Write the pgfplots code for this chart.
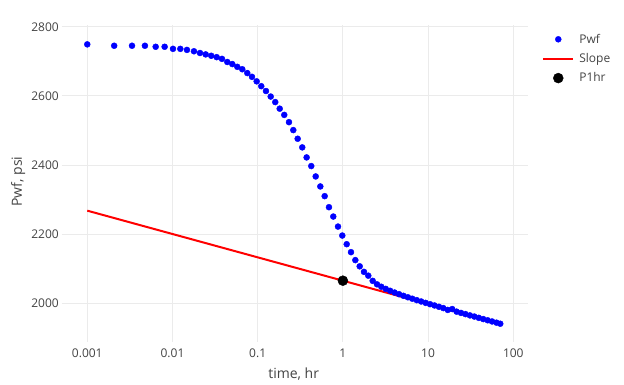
\documentclass[border=0pt]{standalone}
\usepackage{pgfplots}
\pgfplotsset{compat=1.18}
\usepackage{fontspec}
\setmainfont{Open Sans}
\definecolor{txt}{RGB}{68,68,68}
\definecolor{gridc}{RGB}{235,235,235}
\definecolor{pblue}{RGB}{0,0,255}
\definecolor{pred}{RGB}{255,0,0}
\pgfplotsset{
  legmark/.style={legend image code/.code={\path[draw=none,fill=none] (0pt,-6pt) rectangle (30pt,6pt);
    \draw[mark repeat=2,mark phase=2,##1] plot coordinates {(0pt,0pt) (15pt,0pt) (30pt,0pt)};}},
  legline/.style={legend image code/.code={\path[draw=none,fill=none] (0pt,-6pt) rectangle (30pt,6pt);
    \draw[##1] (0pt,0pt) -- (30pt,0pt);}},
}
\begin{document}
\begin{tikzpicture}
\path[use as bounding box, fill=white] (0,0) rectangle (624pt,384pt);
\begin{axis}[
  at={(61.7pt,42.3pt)}, anchor=south west,
  scale only axis, width=466pt, height=316.7pt,
  xmode=log, log basis x=10,
  xmin=0.000501, xmax=147.6,
  ymin=1889, ymax=2805,
  axis line style={draw=none},
  major tick length=0pt, xminorticks=false, yminorticks=false,
  xtick={0.001,0.01,0.1,1,10,100},
  xticklabels={0.001,0.01,0.1,1,10,100},
  ytick={2000,2200,2400,2600,2800},
  yticklabels={2000,2200,2400,2600,2800},
  grid=major,
  major grid style={gridc, line width=1pt},
  tick label style={font=\fontsize{12pt}{14pt}\selectfont, text=txt, inner sep=0pt},
  xticklabel style={anchor=base, yshift=-15.3pt},
  yticklabel style={anchor=east, xshift=-2.7pt},
  xlabel={time, hr}, ylabel={Pwf, psi},
  label style={font=\fontsize{14pt}{16pt}\selectfont, text=txt, inner sep=0pt},
  xlabel style={at={(axis description cs:0.5,0)}, anchor=base, yshift=-36.6pt, xshift=-1pt},
  ylabel style={at={(axis description cs:-0.08519,0.50537)}, anchor=base, rotate=0},
  legend style={at={(axis description cs:1.0313,0.9738)}, anchor=north west,
    draw=none, fill=none, inner sep=0pt, outer sep=0pt, row sep=7.4pt, column sep=5pt,
    font=\fontsize{12pt}{14pt}\selectfont, text=txt,
    nodes={inner sep=0pt, text=txt}},
  legend cell align=left,
  clip=false,
]
\addplot[only marks, mark=*, mark size=3pt, pblue, mark options={draw=pblue, fill=pblue}, legmark]
coordinates {
(0.001,2749) (0.00207,2745) (0.00335,2745) (0.00475,2745) (0.00635,2742)
(0.00809,2742) (0.01014,2736) (0.01236,2736) (0.01479,2733) (0.01787,2729)
(0.02103,2724) (0.02453,2720) (0.02852,2716) (0.03303,2712) (0.03811,2707)
(0.04398,2698) (0.05035,2692) (0.05765,2684) (0.06596,2677) (0.07551,2666)
(0.08576,2655) (0.09731,2642) (0.1102,2628) (0.1251,2614) (0.1422,2598)
(0.1609,2582) (0.1813,2563) (0.2052,2545) (0.2330,2524) (0.2618,2501)
(0.2946,2476) (0.3336,2451) (0.3755,2422) (0.4255,2397) (0.4797,2367)
(0.5433,2338) (0.6114,2310) (0.6866,2278) (0.7714,2251) (0.8767,2222)
(0.984,2196) (1.109,2171) (1.245,2148) (1.400,2125) (1.575,2107)
(1.769,2091) (1.987,2080) (2.238,2065) (2.514,2055) (2.825,2048)
(3.184,2041.8) (3.589,2036.3) (4.046,2031.2) (4.560,2026.4) (5.140,2021.8)
(5.794,2017.5) (6.531,2013.3) (7.362,2009.2) (8.299,2005.3) (9.354,2001.3)
(10.54,1997.5) (11.89,1993.8) (13.40,1990.0) (15.10,1986.2) (17.02,1980.9)
(19.19,1983.4) (21.63,1975.9) (24.38,1972.2) (27.48,1968.8) (30.97,1965.1)
(34.91,1961.7) (39.36,1958.0) (44.36,1954.5) (50.00,1951.0) (56.36,1947.5)
(63.53,1944.0) (70.31,1941.0)
};
\addlegendentry{Pwf}
\addplot[pred, line width=2pt, no marks, legline]
coordinates {(0.001,2268) (70.31,1940.8)};
\addlegendentry{Slope}
\addplot[only marks, mark=*, mark size=5pt, black, mark options={draw=black, fill=black}, legmark]
coordinates {(1,2065.5)};
\addlegendentry{P1hr}
\end{axis}
\end{tikzpicture}
\end{document}
